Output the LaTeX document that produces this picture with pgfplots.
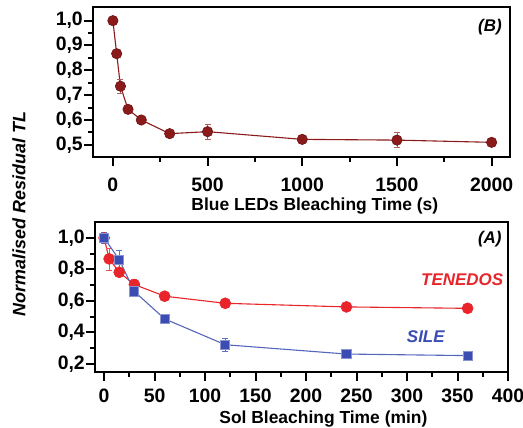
\documentclass[border=0pt]{standalone}
\usepackage{fontspec}
\setmainfont{Liberation Sans}
\usepackage{pgfplots}
\pgfplotsset{compat=1.18}
\usepackage{pgfplotstable}
\definecolor{dred}{HTML}{8B1A1A}
\definecolor{lred}{HTML}{E8252B}
\definecolor{mblue}{HTML}{3B4CB2}
\definecolor{lblue}{HTML}{5566BB}

\pgfplotstableread{
x y e
0 1.000 0.005
20 0.867 0.010
40 0.736 0.030
80 0.643 0.012
150 0.600 0.012
300 0.545 0.015
500 0.553 0.030
1000 0.522 0.015
1500 0.519 0.030
2000 0.510 0.015
}\blueled

\pgfplotstableread{
x y e
0 1.000 0.010
5 0.867 0.070
15 0.782 0.020
30 0.704 0.035
60 0.630 0.020
120 0.585 0.015
240 0.562 0.020
360 0.553 0.020
}\tenedos

\pgfplotstableread{
x y e
0 1.000 0.035
15 0.862 0.060
30 0.660 0.020
60 0.486 0.030
120 0.322 0.040
240 0.263 0.010
360 0.253 0.030
}\sile

\pgfplotsset{
  myaxis/.style={
    scale only axis,
    axis line style={line width=2.6bp},
    tick align=outside,
    xtick pos=bottom, ytick pos=left,
    major tick length=9bp, minor tick length=5bp,
    every tick/.style={line width=2bp, black},
    minor x tick num=1, minor y tick num=1,
    tick label style={font=\bfseries\fontsize{19.5}{22}\selectfont},
    /pgf/number format/assume math mode=true,
    label style={font=\bfseries\fontsize{17.5}{20}\selectfont, inner sep=0bp},
    yticklabel style={inner xsep=1bp, /pgf/number format/use comma, /pgf/number format/fixed, /pgf/number format/fixed zerofill, /pgf/number format/precision=1},
    xticklabel style={inner ysep=0bp, /pgf/number format/fixed, /pgf/number format/1000 sep={}},
    clip=false,
  }
}

\begin{document}
\begin{tikzpicture}
\useasboundingbox (0,0) rectangle (523bp,428bp);

% top panel (B)
\begin{axis}[myaxis,
  at={(93bp,271bp)}, anchor=south west,
  width=417bp, height=150bp,
  xmin=-105, xmax=2097, ymin=0.451, ymax=1.055,
  xtick={0,500,1000,1500,2000},
  ytick={0.5,0.6,0.7,0.8,0.9,1.0},
  xticklabel shift=12bp,
  xlabel={Blue LEDs Bleaching Time (s)},
  xlabel style={at={(axis description cs:0.532,-0.33)}, anchor=center},
]
\addplot[color=dred, line width=1.1bp, mark=*, mark size=5.2bp,
  mark options={fill=dred, draw=dred!80!black, line width=0.6bp},
  error bars/.cd, y dir=both, y explicit,
  error bar style={color=dred!70, line width=0.8bp}, error mark options={rotate=90, mark size=3bp, color=dred!70}]
  table[x=x, y=y, y error=e]{\blueled};
\node[font=\bfseries\itshape\fontsize{17}{20}\selectfont] at (rel axis cs:0.952,0.867) {(B)};
\end{axis}

% bottom panel (A)
\begin{axis}[myaxis,
  at={(95bp,56bp)}, anchor=south west,
  width=413bp, height=150bp,
  xmin=-9, xmax=400, ymin=0.149, ymax=1.101,
  xtick={0,50,...,400},
  ytick={0.2,0.4,0.6,0.8,1.0},
  xticklabel shift=8bp,
  xlabel={Sol Bleaching Time (min)},
  xlabel style={at={(axis description cs:0.553,-0.315)}, anchor=center},
]
\addplot[color=lred, line width=1.1bp, mark=*, mark size=5.5bp,
  mark options={fill=lred, draw=lred, line width=0.6bp},
  error bars/.cd, y dir=both, y explicit,
  error bar style={color=lred!80, line width=0.8bp}, error mark options={rotate=90, mark size=3bp, color=lred!80}]
  table[x=x, y=y, y error=e]{\tenedos};
\addplot[color=lblue, line width=1.1bp, mark=square*, mark size=4.6bp,
  mark options={fill=mblue, draw=mblue!60, line width=1bp},
  error bars/.cd, y dir=both, y explicit,
  error bar style={color=mblue!80, line width=0.8bp}, error mark options={rotate=90, mark size=3bp, color=mblue!80}]
  table[x=x, y=y, y error=e]{\sile};
\node[font=\bfseries\itshape\fontsize{17}{20}\selectfont] at (rel axis cs:0.956,0.887) {(A)};
\node[font=\bfseries\itshape\fontsize{17}{20}\selectfont, color=lred] at (rel axis cs:0.889,0.613) {TENEDOS};
\node[font=\bfseries\itshape\fontsize{17}{20}\selectfont, color=mblue] at (rel axis cs:0.801,0.233) {SILE};
\end{axis}

\node[rotate=90, font=\bfseries\itshape\fontsize{18}{20}\selectfont] at (19bp,214bp) {Normalised Residual TL};
\end{tikzpicture}
\end{document}
